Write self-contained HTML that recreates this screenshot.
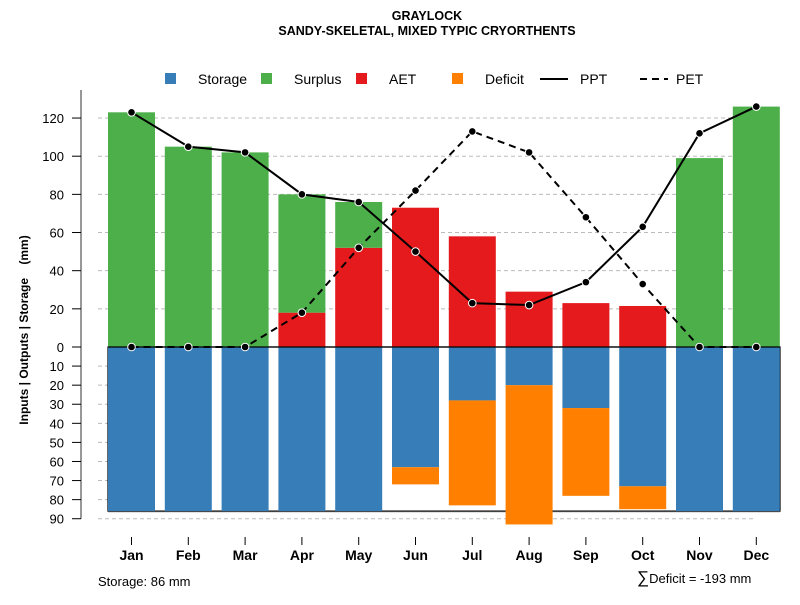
<!DOCTYPE html>
<html><head><meta charset="utf-8"><style>
body{margin:0;background:#fff;font-family:"Liberation Sans",Arial,sans-serif}
svg text{font-family:"Liberation Sans",Arial,sans-serif}
</style></head><body>
<svg id="c" width="800" height="600" xmlns="http://www.w3.org/2000/svg">
<text x="427" y="20" text-anchor="middle" font-size="12.5" font-weight="bold">GRAYLOCK</text>
<text x="427" y="35" text-anchor="middle" font-size="12.5" font-weight="bold">SANDY-SKELETAL, MIXED TYPIC CRYORTHENTS</text>
<g id="legend" font-size="14">
<rect x="165" y="73" width="11" height="11" fill="#377eb8"/><text x="198" y="84">Storage</text>
<rect x="261" y="73" width="11" height="11" fill="#4daf4a"/><text x="294" y="84">Surplus</text>
<rect x="356" y="73" width="11" height="11" fill="#e41a1c"/><text x="389" y="84">AET</text>
<rect x="452" y="73" width="11" height="11" fill="#ff7f00"/><text x="485" y="84">Deficit</text>
<line x1="540" y1="79" x2="568" y2="79" stroke="#000" stroke-width="2"/><text x="580" y="84">PPT</text>
<line x1="640" y1="79" x2="668" y2="79" stroke="#000" stroke-width="2" stroke-dasharray="7,5"/><text x="676" y="84">PET</text>
</g>
<text transform="translate(28,330) rotate(-90)" text-anchor="middle" font-size="12" font-weight="bold">Inputs | Outputs | Storage&#160;&#160;&#160;&#160;(mm)</text>
<text x="98" y="586" font-size="13">Storage: 86 mm</text>
<text x="637" y="583" font-size="13"><tspan font-size="17">∑</tspan>Deficit = -193 mm</text>
</svg>
<script>
const months=["Jan","Feb","Mar","Apr","May","Jun","Jul","Aug","Sep","Oct","Nov","Dec"];
const ppt=[123,105,102,80,76,50,23,22,34,63,112,126];
const pet=[0,0,0,18,52,82,113,102,68,33,0,0];
const aet=[0,0,0,18,52,73,58,29,23,21.5,0,0];
const surplus=[123,105,102,62,24,0,0,0,0,0,99,126];
const storage=[86,86,86,86,86,63,28,20,32,73,86,86];
const deficit=[0,0,0,0,0,9,55,73,46,12,0,0];
const upTicks=[0,20,40,60,80,100,120];
const downTicks=[10,20,30,40,50,60,70,80,90];
const maxStorage=86;
const svg=document.getElementById('c');const NS="http://www.w3.org/2000/svg";
const y0=347,k=1.908;
const yUp=v=>y0-v*k, yDn=v=>y0+v*k;
const xs=i=>108+56.8*i, bw=47, xc=i=>xs(i)+bw/2;
function el(t,a,name,p){const e=document.createElementNS(NS,t);for(const q in a)e.setAttribute(q,a[q]);


(p||svg).appendChild(e);return e;}
upTicks.forEach(v=>{if(v>0)el('line',{x1:98,x2:755,y1:yUp(v),y2:yUp(v),stroke:'#bbb','stroke-dasharray':'4,3'},'grid-line');});
downTicks.forEach(v=>{el('line',{x1:98,x2:755,y1:yDn(v),y2:yDn(v),stroke:'#bbb','stroke-dasharray':'4,3'},'grid-line');});
el('rect',{x:xs(0),y:y0,width:780-xs(0),height:maxStorage*k+1.5,fill:'#ccc'},'storage-shadow');
el('rect',{x:xs(0),y:y0,width:780-xs(0),height:maxStorage*k,fill:'#fff',stroke:'#000','stroke-width':1.2},'storage-box');
months.forEach((m,i)=>{
 el('rect',{x:xs(i),y:y0,width:bw,height:storage[i]*k,fill:'#377eb8'},'bar-storage-'+m.toLowerCase());
 if(deficit[i]>0)el('rect',{x:xs(i),y:yDn(storage[i]),width:bw,height:deficit[i]*k,fill:'#ff7f00'},'bar-deficit-'+m.toLowerCase());
 if(aet[i]>0)el('rect',{x:xs(i),y:yUp(aet[i]),width:bw,height:aet[i]*k,fill:'#e41a1c'},'bar-aet-'+m.toLowerCase());
 if(surplus[i]>0)el('rect',{x:xs(i),y:yUp(aet[i]+surplus[i]),width:bw,height:surplus[i]*k,fill:'#4daf4a'},'bar-surplus-'+m.toLowerCase());
 el('line',{x1:xc(i),x2:xc(i),y1:537,y2:545,stroke:'#000'},'x-tick');
 const t=el('text',{x:xc(i),y:560,'text-anchor':'middle','font-size':14,'font-weight':'bold'},'x-label-'+m.toLowerCase());t.textContent=m;
});
el('line',{x1:xs(0),x2:780,y1:y0,y2:y0,stroke:'#000','stroke-width':1.2},'zero-line');
el('line',{x1:81,x2:81,y1:90,y2:yDn(90),stroke:'#777','stroke-width':1.5},'y-axis-line');
upTicks.forEach(v=>{el('line',{x1:72,x2:81,y1:yUp(v),y2:yUp(v),stroke:'#000'},'y-tick');
 const t=el('text',{x:64,y:yUp(v)+5,'text-anchor':'end','font-size':13},'y-tick-label');t.textContent=v;});
downTicks.forEach(v=>{el('line',{x1:72,x2:81,y1:yDn(v),y2:yDn(v),stroke:'#000'},'y-tick');
 const t=el('text',{x:64,y:yDn(v)+5,'text-anchor':'end','font-size':13},'y-tick-label');t.textContent=v;});
el('polyline',{points:pet.map((v,i)=>xc(i)+','+yUp(v)).join(' '),fill:'none',stroke:'#000','stroke-width':2,'stroke-dasharray':'7,5'},'pet-line');
el('polyline',{points:ppt.map((v,i)=>xc(i)+','+yUp(v)).join(' '),fill:'none',stroke:'#000','stroke-width':2},'ppt-line');
pet.forEach((v,i)=>el('circle',{cx:xc(i),cy:yUp(v),r:3.8,fill:'#000',stroke:'#fff','stroke-width':1},'pet-point'));
ppt.forEach((v,i)=>el('circle',{cx:xc(i),cy:yUp(v),r:3.8,fill:'#000',stroke:'#fff','stroke-width':1},'ppt-point'));
</script>
</body></html>
